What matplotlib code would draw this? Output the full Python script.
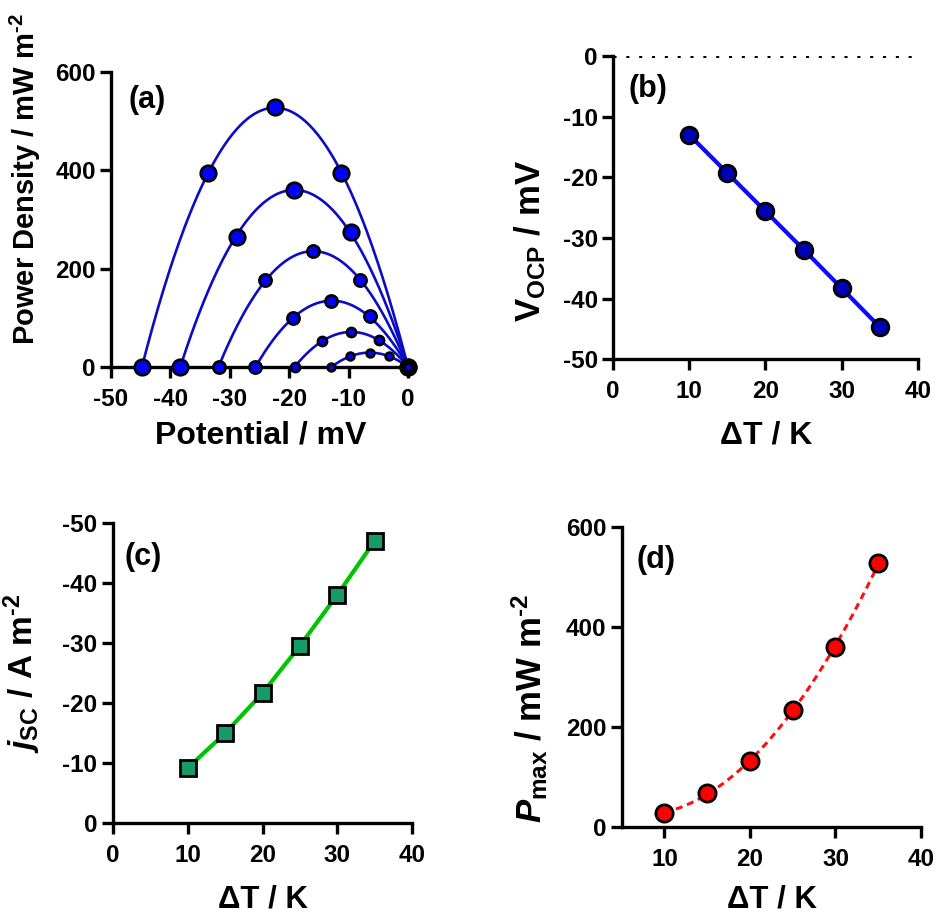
import numpy as np
import matplotlib
matplotlib.use('Agg')
import matplotlib.pyplot as plt

plt.rcParams['font.family'] = ['Liberation Sans', 'DejaVu Sans']
plt.rcParams['font.weight'] = 'bold'
plt.rcParams['axes.unicode_minus'] = False
plt.rcParams['mathtext.fontset'] = 'custom'
plt.rcParams['mathtext.rm'] = 'Liberation Sans:bold'
plt.rcParams['mathtext.it'] = 'Liberation Sans:bold:italic'
plt.rcParams['mathtext.bf'] = 'Liberation Sans:bold'

# ---- (a) power density vs potential, one curve per dT ----
V_35 = [-44.8, -33.6, -22.4, -11.2, 0.0]
P_35 = [0, 395, 528, 395, 0]
V_30 = [-38.4, -28.8, -19.2, -9.6, 0.0]
P_30 = [0, 264, 361, 275, 0]
V_25 = [-31.9, -24.0, -16.0, -8.0, 0.0]
P_25 = [0, 176, 236, 176, 0]
V_20 = [-25.7, -19.3, -12.9, -6.4, 0.0]
P_20 = [0, 100, 134, 103, 0]
V_15 = [-19.1, -14.4, -9.6, -4.8, 0.0]
P_15 = [0, 53, 71, 54, 0]
V_10 = [-12.9, -9.7, -6.4, -3.2, 0.0]
P_10 = [0, 22, 29, 22, 0]

# ---- (b), (c), (d) vs temperature difference ----
dT = [10, 15, 20, 25, 30, 35]
V_ocp = [-13.0, -19.3, -25.6, -31.9, -38.3, -44.7]
j_sc = [-9.2, -15.0, -21.7, -29.6, -38.1, -47.1]
P_max = [28, 69, 133, 234, 359, 527]

W, H = 937, 917
fig = plt.figure(figsize=(W / 100, H / 100), dpi=100)


def box(l, r, t, b):
    return [l / W, 1 - b / H, (r - l) / W, (b - t) / H]


def style(ax):
    for s in ['top', 'right']:
        ax.spines[s].set_visible(False)
    for s in ['left', 'bottom']:
        ax.spines[s].set_linewidth(2.4)
    ax.tick_params(width=2.4, length=8, labelsize=17.5)
    ax.tick_params(axis='x', pad=7)
    ax.tick_params(axis='y', pad=3)


def ftext(x, y, s, va='center', **kw):
    fig.text(x / W, 1 - y / H, s, ha='center', va=va, fontweight='bold', **kw)


ax_a = fig.add_axes(box(111, 408, 72, 367))
ax_b = fig.add_axes(box(613, 918, 56, 359.3))
ax_c = fig.add_axes(box(112.7, 412.3, 523.3, 823.3))
ax_d = fig.add_axes(box(621.7, 921, 526.7, 827.3))

# (a)
curves = [(V_35, P_35, 11.2), (V_30, P_30, 11.2), (V_25, P_25, 8.8),
          (V_20, P_20, 8.8), (V_15, P_15, 6.6), (V_10, P_10, 5.6)]
for V, P, ms in curves:
    coef = np.polyfit(V, P, 2)
    vv = np.linspace(V[0], V[-1], 200)
    ax_a.plot(vv, np.polyval(coef, vv), color='#0c0cc4', lw=1.9, zorder=2, clip_on=False)
    ax_a.plot(V, P, 'o', ms=ms, mfc='#0000ff', mec='black', mew=1.9, zorder=3, clip_on=False)
ax_a.set_xlim(-50, 0)
ax_a.set_ylim(0, 600)
ax_a.set_xticks(range(-50, 1, 10))
ax_a.set_yticks(range(0, 601, 200))
style(ax_a)

# (b)
ax_b.axhline(0, color='black', lw=2.2, dashes=(1, 3.2), zorder=1)
ax_b.plot(dT, V_ocp, '-', color='#0a0aff', lw=3, zorder=2)
ax_b.plot(dT, V_ocp, 'o', ms=12, mfc='#0000b4', mec='black', mew=2, zorder=3, clip_on=False)
ax_b.set_xlim(0, 40)
ax_b.set_ylim(-50, 0)
ax_b.set_xticks(range(0, 41, 10))
ax_b.set_yticks(range(-50, 1, 10))
style(ax_b)

# (c)
ax_c.plot(dT, j_sc, '-', color='#00c400', lw=3, zorder=2)
ax_c.plot(dT, j_sc, 's', ms=12, mfc='#169a68', mec='black', mew=2, zorder=3, clip_on=False)
ax_c.set_xlim(0, 40)
ax_c.set_ylim(0, -50)
ax_c.set_xticks(range(0, 41, 10))
ax_c.set_yticks(range(0, -51, -10))
style(ax_c)

# (d)
coef = np.polyfit(dT, P_max, 2)
tt = np.linspace(dT[0], dT[-1], 200)
ax_d.plot(tt, np.polyval(coef, tt), color='#ff1010', lw=2.2, dashes=(2.3, 1.6), zorder=2)
ax_d.plot(dT, P_max, 'o', ms=12.4, mfc='#ff0000', mec='black', mew=2, zorder=3, clip_on=False)
ax_d.set_xlim(5, 40)
ax_d.set_ylim(0, 600)
ax_d.set_xticks(range(10, 41, 10))
ax_d.set_yticks(range(0, 601, 200))
style(ax_d)

# axis titles
ftext(25, 179, 'Power Density / mW m$^{\\text{-2}}$', rotation=90, fontsize=21)
ftext(261, 443, 'Potential / mV', va='baseline', fontsize=23)
ftext(530, 241, 'V$_{\\mathrm{OCP}}$ / mV', rotation=90, fontsize=25)
ftext(766, 444, '\u0394T / K', va='baseline', fontsize=23)
ftext(22, 673, '$j_{\\mathrm{SC}}$ / A m$^{\\text{-2}}$', rotation=90, fontsize=24)
ftext(263, 908, '\u0394T / K', va='baseline', fontsize=22.5)
ftext(530, 709, '$P_{\\mathrm{max}}$ / mW m$^{\\text{-2}}$', rotation=90, fontsize=25)
ftext(772, 908, '\u0394T / K', va='baseline', fontsize=22.5)

# panel letters
ftext(147, 100, '(a)', fontsize=22)
ftext(648, 89, '(b)', fontsize=22)
ftext(143, 557, '(c)', fontsize=22)
ftext(656, 560, '(d)', fontsize=22)

fig.savefig('out.png', dpi=100)
